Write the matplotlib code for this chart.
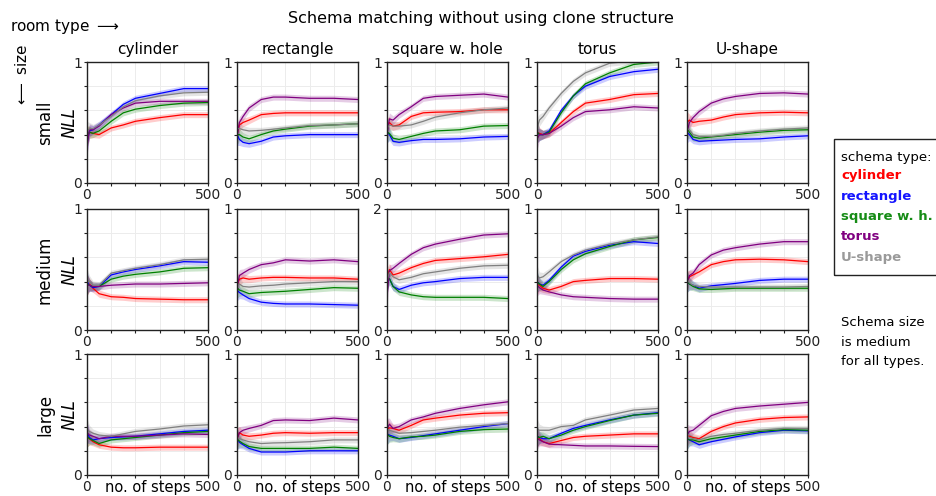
import matplotlib
matplotlib.use("Agg")
import matplotlib.pyplot as plt
import numpy as np
from matplotlib.patches import Rectangle

plt.rcParams['font.family'] = ['DejaVu Sans']

# ---- data (NLL vs. no. of steps) ----
steps = [0, 10, 25, 50, 100, 150, 200, 300, 400, 500]
band = [0.09, 0.05, 0.035, 0.03, 0.025, 0.025, 0.025, 0.025, 0.025, 0.025]

schema_types = ['cylinder', 'rectangle', 'square w. h.', 'torus', 'U-shape']
room_types = ['cylinder', 'rectangle', 'square w. hole', 'torus', 'U-shape']
sizes = ['small', 'medium', 'large']
y_tops = [[1, 1, 1, 1, 1], [1, 1, 2, 1, 1], [1, 1, 1, 1, 1]]

# order inside each panel: cylinder, rectangle, square w. h., torus, U-shape
cyl_small = [
    [0.38, 0.42, 0.41, 0.40, 0.455, 0.48, 0.51, 0.54, 0.565, 0.565],
    [0.33, 0.43, 0.44, 0.48, 0.565, 0.65, 0.70, 0.74, 0.78, 0.78],
    [0.38, 0.42, 0.41, 0.43, 0.51, 0.58, 0.61, 0.64, 0.66, 0.665],
    [0.30, 0.44, 0.44, 0.47, 0.565, 0.62, 0.66, 0.675, 0.675, 0.675],
    [0.42, 0.45, 0.45, 0.48, 0.55, 0.63, 0.68, 0.72, 0.745, 0.75]]
rect_small = [
    [0.40, 0.48, 0.50, 0.52, 0.565, 0.575, 0.58, 0.58, 0.58, 0.58],
    [0.40, 0.36, 0.336, 0.325, 0.345, 0.38, 0.39, 0.40, 0.40, 0.40],
    [0.40, 0.40, 0.38, 0.365, 0.40, 0.43, 0.445, 0.47, 0.48, 0.49],
    [0.38, 0.50, 0.55, 0.62, 0.69, 0.71, 0.71, 0.70, 0.70, 0.69],
    [0.45, 0.45, 0.44, 0.43, 0.435, 0.445, 0.455, 0.475, 0.48, 0.49]]
sqh_small = [
    [0.45, 0.50, 0.47, 0.48, 0.55, 0.58, 0.585, 0.59, 0.605, 0.605],
    [0.42, 0.40, 0.345, 0.336, 0.35, 0.36, 0.36, 0.365, 0.38, 0.385],
    [0.42, 0.41, 0.37, 0.36, 0.385, 0.41, 0.43, 0.44, 0.47, 0.475],
    [0.40, 0.53, 0.52, 0.565, 0.63, 0.70, 0.715, 0.725, 0.735, 0.71],
    [0.45, 0.48, 0.47, 0.47, 0.48, 0.51, 0.545, 0.58, 0.605, 0.62]]
torus_small = [
    [0.42, 0.41, 0.40, 0.41, 0.50, 0.59, 0.66, 0.69, 0.73, 0.74],
    [0.42, 0.40, 0.40, 0.43, 0.60, 0.72, 0.80, 0.88, 0.92, 0.94],
    [0.42, 0.40, 0.40, 0.42, 0.58, 0.72, 0.82, 0.91, 0.98, 1.0],
    [0.36, 0.40, 0.40, 0.41, 0.47, 0.54, 0.59, 0.605, 0.63, 0.62],
    [0.45, 0.52, 0.55, 0.62, 0.74, 0.84, 0.91, 0.99, 1.01, 1.02]]
ush_small = [
    [0.50, 0.52, 0.50, 0.51, 0.52, 0.545, 0.565, 0.58, 0.585, 0.58],
    [0.42, 0.40, 0.36, 0.345, 0.35, 0.355, 0.36, 0.365, 0.38, 0.39],
    [0.45, 0.42, 0.38, 0.37, 0.38, 0.39, 0.40, 0.42, 0.435, 0.44],
    [0.42, 0.50, 0.54, 0.59, 0.66, 0.695, 0.715, 0.74, 0.745, 0.735],
    [0.45, 0.44, 0.40, 0.385, 0.385, 0.395, 0.41, 0.43, 0.445, 0.455]]

cyl_medium = [
    [0.37, 0.38, 0.345, 0.30, 0.275, 0.27, 0.26, 0.255, 0.25, 0.25],
    [0.40, 0.37, 0.35, 0.36, 0.455, 0.48, 0.50, 0.53, 0.565, 0.56],
    [0.38, 0.37, 0.36, 0.36, 0.42, 0.445, 0.46, 0.48, 0.51, 0.515],
    [0.37, 0.37, 0.36, 0.36, 0.37, 0.375, 0.38, 0.38, 0.385, 0.39],
    [0.42, 0.40, 0.37, 0.37, 0.47, 0.49, 0.51, 0.54, 0.58, 0.585]]
rect_medium = [
    [0.37, 0.42, 0.43, 0.42, 0.43, 0.435, 0.435, 0.43, 0.43, 0.42],
    [0.33, 0.31, 0.29, 0.26, 0.23, 0.22, 0.215, 0.215, 0.21, 0.205],
    [0.35, 0.33, 0.32, 0.30, 0.31, 0.315, 0.32, 0.335, 0.35, 0.345],
    [0.35, 0.45, 0.47, 0.50, 0.54, 0.555, 0.58, 0.57, 0.58, 0.565],
    [0.37, 0.38, 0.36, 0.355, 0.365, 0.37, 0.38, 0.39, 0.40, 0.40]]
sqh_medium = [
    [0.85, 1.00, 0.91, 0.94, 1.03, 1.10, 1.15, 1.18, 1.21, 1.25],
    [0.82, 0.85, 0.72, 0.67, 0.74, 0.78, 0.80, 0.85, 0.87, 0.87],
    [0.85, 0.85, 0.72, 0.63, 0.58, 0.55, 0.54, 0.54, 0.54, 0.52],
    [0.55, 0.98, 1.02, 1.10, 1.25, 1.36, 1.42, 1.50, 1.57, 1.59],
    [0.82, 0.95, 0.88, 0.83, 0.87, 0.93, 0.96, 1.02, 1.06, 1.07]]
torus_medium = [
    [0.38, 0.37, 0.345, 0.33, 0.36, 0.40, 0.41, 0.425, 0.425, 0.42],
    [0.40, 0.38, 0.37, 0.41, 0.52, 0.61, 0.65, 0.70, 0.73, 0.715],
    [0.40, 0.38, 0.36, 0.40, 0.50, 0.58, 0.63, 0.69, 0.745, 0.765],
    [0.37, 0.35, 0.33, 0.315, 0.29, 0.275, 0.27, 0.26, 0.255, 0.255],
    [0.45, 0.43, 0.44, 0.48, 0.565, 0.62, 0.66, 0.71, 0.745, 0.77]]
ush_medium = [
    [0.40, 0.44, 0.455, 0.48, 0.54, 0.565, 0.58, 0.585, 0.58, 0.565],
    [0.40, 0.38, 0.37, 0.345, 0.365, 0.375, 0.385, 0.41, 0.42, 0.42],
    [0.40, 0.38, 0.36, 0.34, 0.335, 0.34, 0.345, 0.345, 0.345, 0.345],
    [0.38, 0.45, 0.47, 0.54, 0.62, 0.66, 0.68, 0.71, 0.73, 0.73],
    [0.42, 0.39, 0.37, 0.36, 0.355, 0.355, 0.355, 0.355, 0.355, 0.36]]

cyl_large = [
    [0.32, 0.30, 0.275, 0.25, 0.23, 0.225, 0.225, 0.23, 0.23, 0.23],
    [0.35, 0.31, 0.29, 0.30, 0.31, 0.315, 0.32, 0.34, 0.36, 0.37],
    [0.32, 0.30, 0.285, 0.26, 0.29, 0.30, 0.31, 0.33, 0.35, 0.36],
    [0.35, 0.33, 0.32, 0.30, 0.32, 0.32, 0.32, 0.33, 0.34, 0.335],
    [0.38, 0.36, 0.345, 0.33, 0.32, 0.34, 0.36, 0.38, 0.405, 0.415]]
rect_large = [
    [0.30, 0.35, 0.33, 0.32, 0.33, 0.345, 0.35, 0.345, 0.35, 0.35],
    [0.30, 0.27, 0.25, 0.22, 0.19, 0.19, 0.19, 0.20, 0.20, 0.20],
    [0.30, 0.28, 0.26, 0.235, 0.22, 0.22, 0.22, 0.22, 0.23, 0.22],
    [0.30, 0.35, 0.37, 0.385, 0.41, 0.45, 0.455, 0.45, 0.47, 0.455],
    [0.30, 0.30, 0.29, 0.275, 0.26, 0.265, 0.267, 0.275, 0.29, 0.29]]
sqh_large = [
    [0.38, 0.39, 0.385, 0.37, 0.41, 0.455, 0.47, 0.495, 0.51, 0.515],
    [0.34, 0.33, 0.32, 0.30, 0.31, 0.325, 0.34, 0.37, 0.40, 0.425],
    [0.34, 0.32, 0.31, 0.30, 0.315, 0.32, 0.33, 0.36, 0.375, 0.38],
    [0.38, 0.42, 0.385, 0.40, 0.455, 0.48, 0.51, 0.55, 0.58, 0.605],
    [0.36, 0.37, 0.36, 0.345, 0.35, 0.36, 0.37, 0.395, 0.41, 0.425]]
torus_large = [
    [0.32, 0.30, 0.275, 0.26, 0.285, 0.31, 0.32, 0.33, 0.34, 0.34],
    [0.32, 0.31, 0.30, 0.30, 0.345, 0.385, 0.41, 0.455, 0.495, 0.515],
    [0.32, 0.31, 0.32, 0.30, 0.33, 0.37, 0.40, 0.45, 0.495, 0.51],
    [0.30, 0.29, 0.275, 0.255, 0.25, 0.245, 0.24, 0.24, 0.237, 0.235],
    [0.38, 0.37, 0.37, 0.37, 0.40, 0.41, 0.455, 0.495, 0.537, 0.55]]
ush_large = [
    [0.32, 0.32, 0.31, 0.30, 0.36, 0.40, 0.43, 0.46, 0.475, 0.48],
    [0.30, 0.29, 0.275, 0.25, 0.275, 0.295, 0.315, 0.35, 0.37, 0.365],
    [0.30, 0.29, 0.29, 0.275, 0.30, 0.315, 0.33, 0.36, 0.375, 0.37],
    [0.33, 0.36, 0.37, 0.41, 0.49, 0.525, 0.55, 0.57, 0.585, 0.60],
    [0.32, 0.31, 0.30, 0.29, 0.32, 0.335, 0.345, 0.37, 0.385, 0.385]]

panels = [
    [cyl_small, rect_small, sqh_small, torus_small, ush_small],
    [cyl_medium, rect_medium, sqh_medium, torus_medium, ush_medium],
    [cyl_large, rect_large, sqh_large, torus_large, ush_large],
]

line_colors = ['#ff0000', '#0000ff', '#008000', '#800080', '#808080']
text_colors = ['#ff0000', '#1414ff', '#168c16', '#800080', '#9a9a9a']

# ---- layout (pixel based) ----
W, H = 937, 496
fig = plt.figure(figsize=(W / 100, H / 100), dpi=100)

col_left = [87, 237, 387, 537, 687]
row_top = [62, 209, 354]
pw, ph = 121, 121

x = np.array(steps)
for r in range(3):
    for c in range(5):
        ax = fig.add_axes([col_left[c] / W, 1 - (row_top[r] + ph) / H, pw / W, ph / H])
        top = y_tops[r][c]
        for k in range(5):
            y = np.array(panels[r][c][k])
            hw = np.array(band) * top
            ax.fill_between(x, y - hw, y + hw, color=line_colors[k], alpha=0.2, lw=0)
            ax.plot(x, y, color=line_colors[k], lw=0.9)
        ax.set_xlim(0, 500)
        ax.set_ylim(0, top)
        ax.set_xticks([0, 100, 200, 300, 400, 500])
        ax.set_xticklabels(['0', '', '', '', '', '500'])
        ax.set_yticks(np.linspace(0, top, 6))
        ax.set_yticklabels(['0', '', '', '', '', str(top)])
        ax.tick_params(length=2.5, width=0.8, pad=1, labelsize=10, colors='#222222')
        ax.grid(True, color='#ececec', lw=0.7)
        ax.set_axisbelow(True)
        for s in ax.spines.values():
            s.set_linewidth(1.0)
            s.set_color('#222222')
        if r == 0:
            ax.set_title(room_types[c], fontsize=11, pad=6)
        if c == 0:
            ax.set_ylabel('NLL', fontsize=12, style='italic')
            ax.yaxis.set_label_coords(-8 / pw, 0.5)
        if r == 2:
            ax.set_xlabel('no. of steps', fontsize=10.5, labelpad=-10)

# row labels
for r in range(3):
    fig.text(45 / W, 1 - (row_top[r] + ph / 2) / H, sizes[r], rotation=90,
             ha='center', va='center', fontsize=12)

fig.text(481 / W, 1 - 18 / H, 'Schema matching without using clone structure',
         ha='center', va='center', fontsize=11.5)
fig.text(10 / W, 1 - 27 / H, r'room type $\longrightarrow$', ha='left', va='center', fontsize=11)
fig.text(22 / W, 1 - 75 / H, r'$\longleftarrow$ size', rotation=90,
         ha='center', va='center', fontsize=11)

# legend box
fig.patches.append(Rectangle((834 / W, 1 - 275 / H), 120 / W, 136 / H,
                             transform=fig.transFigure, fill=False,
                             edgecolor='#222222', lw=1.0))
fig.text(841 / W, 1 - 157 / H, 'schema type:', ha='left', va='center', fontsize=9.5)
for k, name in enumerate(schema_types):
    fig.text(841 / W, 1 - (176 + 20.3 * k) / H, name, ha='left', va='center',
             fontsize=9.5, fontweight='bold', color=text_colors[k])

for i, line in enumerate(['Schema size', 'is medium', 'for all types.']):
    fig.text(841 / W, 1 - (322 + 20 * i) / H, line, ha='left', va='center', fontsize=9.5)

fig.savefig('out.png', dpi=100)
